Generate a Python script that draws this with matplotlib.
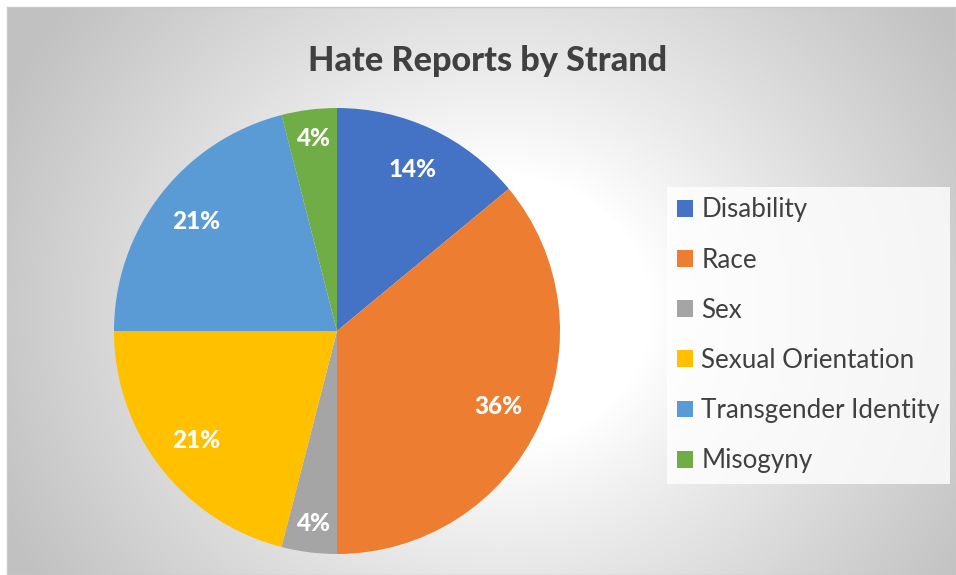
import matplotlib.pyplot as plt
import numpy as np
from matplotlib.patches import Patch

# Hate report shares per strand (%)
strands = ["Disability", "Race", "Sex", "Sexual Orientation",
           "Transgender Identity", "Misogyny"]
shares = [14, 36, 4, 21, 21, 4]
colors = ["#4472C4", "#ED7D31", "#A5A5A5", "#FFC000", "#5B9BD5", "#70AD47"]

plt.rcParams['font.family'] = ['Lato', 'DejaVu Sans']

W, H = 956, 575
fig = plt.figure(figsize=(W / 100, H / 100), dpi=100)
fig.patch.set_facecolor("white")

# ---------------------------------------------------------
# chart area background: radial grey gradient
# ---------------------------------------------------------
bg = fig.add_axes([7 / W, 0, 1 - 7 / W, 1 - 7 / H])
yy, xx = np.mgrid[7:H, 7:W]
d = np.hypot(xx - 500, (yy - 310) * 1.1)
t = np.clip((d - 150) / 400, 0, 1) ** 0.9
g = (255 - 62 * t) / 255
bg.imshow(np.dstack([g, g, g]), aspect="auto", interpolation="bilinear")
bg.set_xticks([])
bg.set_yticks([])
for s in bg.spines.values():
    s.set_color("#c9c9c9")
    s.set_linewidth(1.0)

# ---------------------------------------------------------
# pie
# ---------------------------------------------------------
cx, cy, r = 337, 331, 223
ax = fig.add_axes([(cx - r) / W, (H - cy - r) / H, 2 * r / W, 2 * r / H])
wedges, _, autotexts = ax.pie(
    shares, colors=colors, startangle=90, counterclock=False,
    autopct=lambda p: f"{p:.0f}%", pctdistance=0.8,
    wedgeprops=dict(linewidth=0),
    textprops=dict(color="white", fontsize=17.5, fontweight=900))
ax.set_xlim(-1, 1)
ax.set_ylim(-1, 1)
ax.set_facecolor("none")

# small slices: push the percentage a bit further out
for w, txt, v in zip(wedges, autotexts, shares):
    if v < 10:
        ang = np.deg2rad((w.theta1 + w.theta2) / 2)
        txt.set_position((0.87 * np.cos(ang), 0.87 * np.sin(ang)))

# ---------------------------------------------------------
# title and legend
# ---------------------------------------------------------
fig.text(488 / W, 1 - 61 / H, "Hate Reports by Strand", ha="center", va="center",
         fontsize=24.6, fontweight=900, color="#404040")

handles = [Patch(facecolor=c, edgecolor="none") for c in colors]
leg = fig.legend(handles, strands, loc="upper left",
                 bbox_to_anchor=(667 / W, 1 - 187 / H),
                 fontsize=18.7, labelcolor="#404040",
                 handlelength=0.62, handleheight=0.62, handletextpad=0.3,
                 labelspacing=0.97, borderpad=0.40, borderaxespad=0,
                 fancybox=False, frameon=True)
leg.get_frame().set_facecolor((1, 1, 1, 0.45))
leg.get_frame().set_edgecolor("none")

fig.savefig("out.png", dpi=100)
